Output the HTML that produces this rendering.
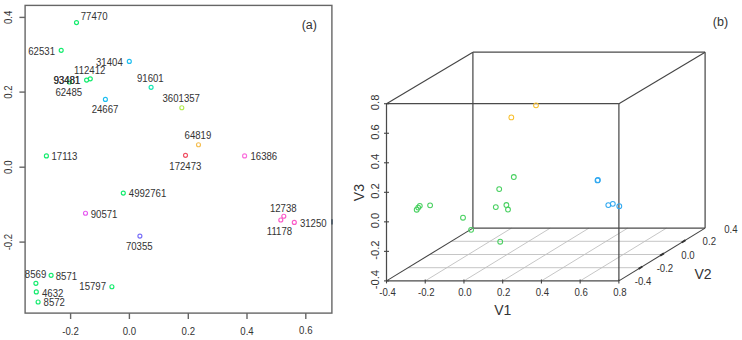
<!DOCTYPE html><html><head><meta charset="utf-8"><style>html,body{margin:0;padding:0;background:#fff;width:742px;height:340px;overflow:hidden}svg{display:block}text{font-family:"Liberation Sans",sans-serif}</style></head><body>
<svg width="742" height="340" viewBox="0 0 742 340">
<rect width="742" height="340" fill="#fff"/>
<g fill="none" stroke="#666" stroke-width="1.4">
<rect x="25.1" y="5.4" width="306.8" height="307.7"/>
<line x1="19.4" y1="17.4" x2="25.1" y2="17.4"/>
<line x1="19.4" y1="92.1" x2="25.1" y2="92.1"/>
<line x1="19.4" y1="167.2" x2="25.1" y2="167.2"/>
<line x1="19.4" y1="242.1" x2="25.1" y2="242.1"/>
<line x1="70.6" y1="313.1" x2="70.6" y2="319"/>
<line x1="129.4" y1="313.1" x2="129.4" y2="319"/>
<line x1="188.3" y1="313.1" x2="188.3" y2="319"/>
<line x1="247.0" y1="313.1" x2="247.0" y2="319"/>
<line x1="305.8" y1="313.1" x2="305.8" y2="319"/>
</g>
<line x1="332" y1="219.2" x2="332" y2="224.6" stroke="#3a4a5a" stroke-width="1.4"/>
<text transform="translate(12,17.4) rotate(-90) scale(0.925,1)" font-size="10.4" fill="#333" text-anchor="middle">0.4</text>
<text transform="translate(12,92.1) rotate(-90) scale(0.925,1)" font-size="10.4" fill="#333" text-anchor="middle">0.2</text>
<text transform="translate(12,167.2) rotate(-90) scale(0.925,1)" font-size="10.4" fill="#333" text-anchor="middle">0.0</text>
<text transform="translate(12,242.1) rotate(-90) scale(0.925,1)" font-size="10.4" fill="#333" text-anchor="middle">-0.2</text>
<text transform="translate(70.6,335.3) scale(0.925,1)" font-size="10.4" fill="#333" text-anchor="middle">-0.2</text>
<text transform="translate(129.4,335.3) scale(0.925,1)" font-size="10.4" fill="#333" text-anchor="middle">0.0</text>
<text transform="translate(188.3,335.3) scale(0.925,1)" font-size="10.4" fill="#333" text-anchor="middle">0.2</text>
<text transform="translate(247.0,335.3) scale(0.925,1)" font-size="10.4" fill="#333" text-anchor="middle">0.4</text>
<text transform="translate(305.8,334.3) scale(0.925,1)" font-size="10.4" fill="#333" text-anchor="middle">0.6</text>
<text x="309.3" y="29.0" font-size="12.5" fill="#333" text-anchor="middle">(a)</text>
<circle cx="76.5" cy="22.6" r="2.0" fill="none" stroke="#14ec6e" stroke-width="1.15"/>
<circle cx="61.2" cy="50.3" r="2.0" fill="none" stroke="#14ec6e" stroke-width="1.15"/>
<circle cx="129.3" cy="61.4" r="2.0" fill="none" stroke="#1ebef0" stroke-width="1.15"/>
<circle cx="86.6" cy="80.1" r="2.0" fill="none" stroke="#14ec6e" stroke-width="1.15"/>
<circle cx="90.3" cy="78.8" r="2.0" fill="none" stroke="#14ec6e" stroke-width="1.15"/>
<circle cx="69.5" cy="82.0" r="2.0" fill="none" stroke="#14ec6e" stroke-width="1.15"/>
<circle cx="105.4" cy="99.4" r="2.0" fill="none" stroke="#1ebef0" stroke-width="1.15"/>
<circle cx="151.1" cy="87.3" r="2.0" fill="none" stroke="#14e6b4" stroke-width="1.15"/>
<circle cx="181.8" cy="107.7" r="2.0" fill="none" stroke="#b4ec50" stroke-width="1.15"/>
<circle cx="198.5" cy="144.7" r="2.0" fill="none" stroke="#f5be50" stroke-width="1.15"/>
<circle cx="185.5" cy="155.3" r="2.0" fill="none" stroke="#f05064" stroke-width="1.15"/>
<circle cx="244.6" cy="155.9" r="2.0" fill="none" stroke="#fa6edc" stroke-width="1.15"/>
<circle cx="46.4" cy="155.9" r="2.0" fill="none" stroke="#14ec6e" stroke-width="1.15"/>
<circle cx="123.3" cy="193.1" r="2.0" fill="none" stroke="#14ec6e" stroke-width="1.15"/>
<circle cx="85.5" cy="213.2" r="2.0" fill="none" stroke="#e65af0" stroke-width="1.15"/>
<circle cx="139.9" cy="236.1" r="2.0" fill="none" stroke="#786ef8" stroke-width="1.15"/>
<circle cx="283.8" cy="216.2" r="2.0" fill="none" stroke="#fa5ac8" stroke-width="1.15"/>
<circle cx="280.8" cy="220.0" r="2.0" fill="none" stroke="#fa5ac8" stroke-width="1.15"/>
<circle cx="294.3" cy="222.4" r="2.0" fill="none" stroke="#fa5ac8" stroke-width="1.15"/>
<circle cx="51.1" cy="275.3" r="2.0" fill="none" stroke="#14ec6e" stroke-width="1.15"/>
<circle cx="35.9" cy="283.3" r="2.0" fill="none" stroke="#14ec6e" stroke-width="1.15"/>
<circle cx="36.3" cy="291.9" r="2.0" fill="none" stroke="#14ec6e" stroke-width="1.15"/>
<circle cx="38.1" cy="302" r="2.0" fill="none" stroke="#14ec6e" stroke-width="1.15"/>
<circle cx="111.9" cy="286.7" r="2.0" fill="none" stroke="#14ec6e" stroke-width="1.15"/>
<text transform="translate(80.77,20.49) scale(0.925,1)" font-size="10.4" fill="#333">77470</text>
<text transform="translate(28.27,54.54) scale(0.925,1)" font-size="10.4" fill="#333">62531</text>
<text transform="translate(96.03,66.24) scale(0.925,1)" font-size="10.4" fill="#333">31404</text>
<text transform="translate(74.02,73.79) scale(0.925,1)" font-size="10.4" fill="#333">112412</text>
<text transform="translate(53.38,84.14) scale(0.925,1)" font-size="10.4" fill="#333">93481</text>
<text transform="translate(53.63,84.14) scale(0.925,1)" font-size="10.4" fill="#333">93481</text>
<text transform="translate(55.38,95.84) scale(0.925,1)" font-size="10.4" fill="#333">62485</text>
<text transform="translate(91.67,112.79) scale(0.925,1)" font-size="10.4" fill="#333">24667</text>
<text transform="translate(136.98,82.34) scale(0.925,1)" font-size="10.4" fill="#333">91601</text>
<text transform="translate(162.53,102.24) scale(0.925,1)" font-size="10.4" fill="#333">3601357</text>
<text transform="translate(184.56,139.39) scale(0.925,1)" font-size="10.4" fill="#333">64819</text>
<text transform="translate(169.29,169.84) scale(0.925,1)" font-size="10.4" fill="#333">172473</text>
<text transform="translate(250.47,160.14) scale(0.925,1)" font-size="10.4" fill="#333">16386</text>
<text transform="translate(51.47,159.94) scale(0.925,1)" font-size="10.4" fill="#333">17113</text>
<text transform="translate(128.85,197.34) scale(0.925,1)" font-size="10.4" fill="#333">4992761</text>
<text transform="translate(90.73,217.84) scale(0.925,1)" font-size="10.4" fill="#333">90571</text>
<text transform="translate(125.88,249.69) scale(0.925,1)" font-size="10.4" fill="#333">70355</text>
<text transform="translate(269.92,211.89) scale(0.925,1)" font-size="10.4" fill="#333">12738</text>
<text transform="translate(266.87,234.54) scale(0.925,1)" font-size="10.4" fill="#333">11178</text>
<text transform="translate(299.88,226.59) scale(0.925,1)" font-size="10.4" fill="#333">31250</text>
<text transform="translate(24.87,278.24) scale(0.925,1)" font-size="10.4" fill="#333">8569</text>
<text transform="translate(55.78,279.59) scale(0.925,1)" font-size="10.4" fill="#333">8571</text>
<text transform="translate(42.03,296.74) scale(0.925,1)" font-size="10.4" fill="#333">4632</text>
<text transform="translate(43.58,305.89) scale(0.925,1)" font-size="10.4" fill="#333">8572</text>
<text transform="translate(79.35,290.09) scale(0.925,1)" font-size="10.4" fill="#333">15797</text>
<g stroke="#c0c0c0" stroke-width="0.9" fill="none">
<line x1="425.23" y1="280.9" x2="511.53" y2="228.10"/>
<line x1="463.96" y1="280.9" x2="550.26" y2="228.10"/>
<line x1="502.69" y1="280.9" x2="588.99" y2="228.10"/>
<line x1="541.42" y1="280.9" x2="627.72" y2="228.10"/>
<line x1="580.15" y1="280.9" x2="666.45" y2="228.10"/>
<line x1="408.07" y1="267.70" x2="641.08" y2="267.70"/>
<line x1="429.65" y1="254.50" x2="662.65" y2="254.50"/>
<line x1="451.23" y1="241.30" x2="684.23" y2="241.30"/>
</g>
<g stroke="#4a4a4a" stroke-width="1.25" fill="none">
<line x1="386.50" y1="280.90" x2="618.90" y2="280.90"/>
<line x1="386.50" y1="280.90" x2="386.50" y2="103.70"/>
<line x1="386.50" y1="103.70" x2="618.90" y2="103.70"/>
<line x1="618.90" y1="280.90" x2="618.90" y2="103.70"/>
<line x1="472.90" y1="228.10" x2="705.10" y2="228.10"/>
<line x1="472.90" y1="228.10" x2="472.90" y2="52.20"/>
<line x1="472.90" y1="52.20" x2="705.10" y2="52.20"/>
<line x1="705.10" y1="228.10" x2="705.10" y2="52.20"/>
</g><g stroke="#444" stroke-width="1.1" fill="none">
<line x1="386.50" y1="280.90" x2="472.90" y2="228.10"/>
<line x1="618.90" y1="280.90" x2="705.10" y2="228.10"/>
<line x1="386.50" y1="103.70" x2="472.90" y2="52.20"/>
<line x1="618.90" y1="103.70" x2="705.10" y2="52.20"/>
<line x1="386.50" y1="279.4" x2="386.50" y2="283.4"/>
<line x1="425.23" y1="279.4" x2="425.23" y2="283.4"/>
<line x1="463.96" y1="279.4" x2="463.96" y2="283.4"/>
<line x1="502.69" y1="279.4" x2="502.69" y2="283.4"/>
<line x1="541.42" y1="279.4" x2="541.42" y2="283.4"/>
<line x1="580.15" y1="279.4" x2="580.15" y2="283.4"/>
<line x1="618.88" y1="279.4" x2="618.88" y2="283.4"/>
<line x1="384.0" y1="280.90" x2="389.0" y2="280.90"/>
<line x1="384.0" y1="251.37" x2="389.0" y2="251.37"/>
<line x1="384.0" y1="221.84" x2="389.0" y2="221.84"/>
<line x1="384.0" y1="192.31" x2="389.0" y2="192.31"/>
<line x1="384.0" y1="162.78" x2="389.0" y2="162.78"/>
<line x1="384.0" y1="133.25" x2="389.0" y2="133.25"/>
<line x1="384.0" y1="103.72" x2="389.0" y2="103.72"/>
</g><g stroke="#333" stroke-width="1.9" fill="none">
<line x1="638.61" y1="268.84" x2="642.34" y2="266.56"/>
<line x1="660.18" y1="255.64" x2="663.92" y2="253.36"/>
<line x1="681.76" y1="242.44" x2="685.49" y2="240.16"/>
</g>
<text transform="translate(387.50,295.7) scale(0.925,1)" font-size="10.4" fill="#333" text-anchor="middle">-0.4</text>
<text transform="translate(426.23,295.7) scale(0.925,1)" font-size="10.4" fill="#333" text-anchor="middle">-0.2</text>
<text transform="translate(464.96,295.7) scale(0.925,1)" font-size="10.4" fill="#333" text-anchor="middle">0.0</text>
<text transform="translate(503.69,295.7) scale(0.925,1)" font-size="10.4" fill="#333" text-anchor="middle">0.2</text>
<text transform="translate(542.42,295.7) scale(0.925,1)" font-size="10.4" fill="#333" text-anchor="middle">0.4</text>
<text transform="translate(581.15,295.7) scale(0.925,1)" font-size="10.4" fill="#333" text-anchor="middle">0.6</text>
<text transform="translate(619.88,295.7) scale(0.925,1)" font-size="10.4" fill="#333" text-anchor="middle">0.8</text>
<text transform="translate(378.5,279.60) rotate(-90) scale(1.08,1)" font-size="10.4" fill="#333" text-anchor="middle">-0.4</text>
<text transform="translate(378.5,250.07) rotate(-90) scale(1.08,1)" font-size="10.4" fill="#333" text-anchor="middle">-0.2</text>
<text transform="translate(378.5,220.54) rotate(-90) scale(1.08,1)" font-size="10.4" fill="#333" text-anchor="middle">0.0</text>
<text transform="translate(378.5,191.01) rotate(-90) scale(1.08,1)" font-size="10.4" fill="#333" text-anchor="middle">0.2</text>
<text transform="translate(378.5,161.48) rotate(-90) scale(1.08,1)" font-size="10.4" fill="#333" text-anchor="middle">0.4</text>
<text transform="translate(378.5,131.95) rotate(-90) scale(1.08,1)" font-size="10.4" fill="#333" text-anchor="middle">0.6</text>
<text transform="translate(378.5,102.42) rotate(-90) scale(1.08,1)" font-size="10.4" fill="#333" text-anchor="middle">0.8</text>
<text transform="translate(643.00,285.10) scale(0.925,1)" font-size="10.4" fill="#333" text-anchor="middle">-0.4</text>
<text transform="translate(664.90,272.40) scale(0.925,1)" font-size="10.4" fill="#333" text-anchor="middle">-0.2</text>
<text transform="translate(688.00,259.20) scale(0.925,1)" font-size="10.4" fill="#333" text-anchor="middle">0.0</text>
<text transform="translate(709.30,245.40) scale(0.925,1)" font-size="10.4" fill="#333" text-anchor="middle">0.2</text>
<text transform="translate(730.90,232.60) scale(0.925,1)" font-size="10.4" fill="#333" text-anchor="middle">0.4</text>
<text x="502.7" y="314.8" font-size="14" fill="#333" text-anchor="middle">V1</text>
<text x="703" y="278.8" font-size="14" fill="#333" text-anchor="middle">V2</text>
<text transform="translate(364.4,192.6) rotate(-90)" font-size="14" fill="#333" text-anchor="middle">V3</text>
<text x="720.5" y="25.7" font-size="12.5" fill="#333" text-anchor="middle">(b)</text>
<circle cx="416.7" cy="209.7" r="2.4" fill="none" stroke="#48d060" stroke-width="1.05"/>
<circle cx="418.2" cy="207.6" r="2.4" fill="none" stroke="#48d060" stroke-width="1.05"/>
<circle cx="419.8" cy="205.8" r="2.4" fill="none" stroke="#48d060" stroke-width="1.05"/>
<circle cx="430.1" cy="205.3" r="2.4" fill="none" stroke="#48d060" stroke-width="1.05"/>
<circle cx="463" cy="217.7" r="2.4" fill="none" stroke="#48d060" stroke-width="1.05"/>
<circle cx="471.1" cy="229.8" r="2.4" fill="none" stroke="#48d060" stroke-width="1.05"/>
<circle cx="500.2" cy="241.7" r="2.4" fill="none" stroke="#48d060" stroke-width="1.05"/>
<circle cx="495.8" cy="207.1" r="2.4" fill="none" stroke="#48d060" stroke-width="1.05"/>
<circle cx="499.2" cy="189.1" r="2.4" fill="none" stroke="#48d060" stroke-width="1.05"/>
<circle cx="513.8" cy="177" r="2.4" fill="none" stroke="#48d060" stroke-width="1.05"/>
<circle cx="506.4" cy="205" r="2.4" fill="none" stroke="#48d060" stroke-width="1.05"/>
<circle cx="508" cy="209.5" r="2.4" fill="none" stroke="#48d060" stroke-width="1.05"/>
<circle cx="597.5" cy="180.4" r="2.4" fill="none" stroke="#30a8f0" stroke-width="1.05"/>
<circle cx="597.9" cy="180.0" r="2.4" fill="none" stroke="#30a8f0" stroke-width="1.05"/>
<circle cx="608.3" cy="205.1" r="2.4" fill="none" stroke="#30a8f0" stroke-width="1.05"/>
<circle cx="612.8" cy="203.8" r="2.4" fill="none" stroke="#30a8f0" stroke-width="1.05"/>
<circle cx="619.3" cy="206.2" r="2.4" fill="none" stroke="#30a8f0" stroke-width="1.05"/>
<circle cx="511.3" cy="117.4" r="2.4" fill="none" stroke="#f8c030" stroke-width="1.05"/>
<circle cx="536" cy="105.3" r="2.4" fill="none" stroke="#f8c030" stroke-width="1.05"/>
</svg></body></html>
